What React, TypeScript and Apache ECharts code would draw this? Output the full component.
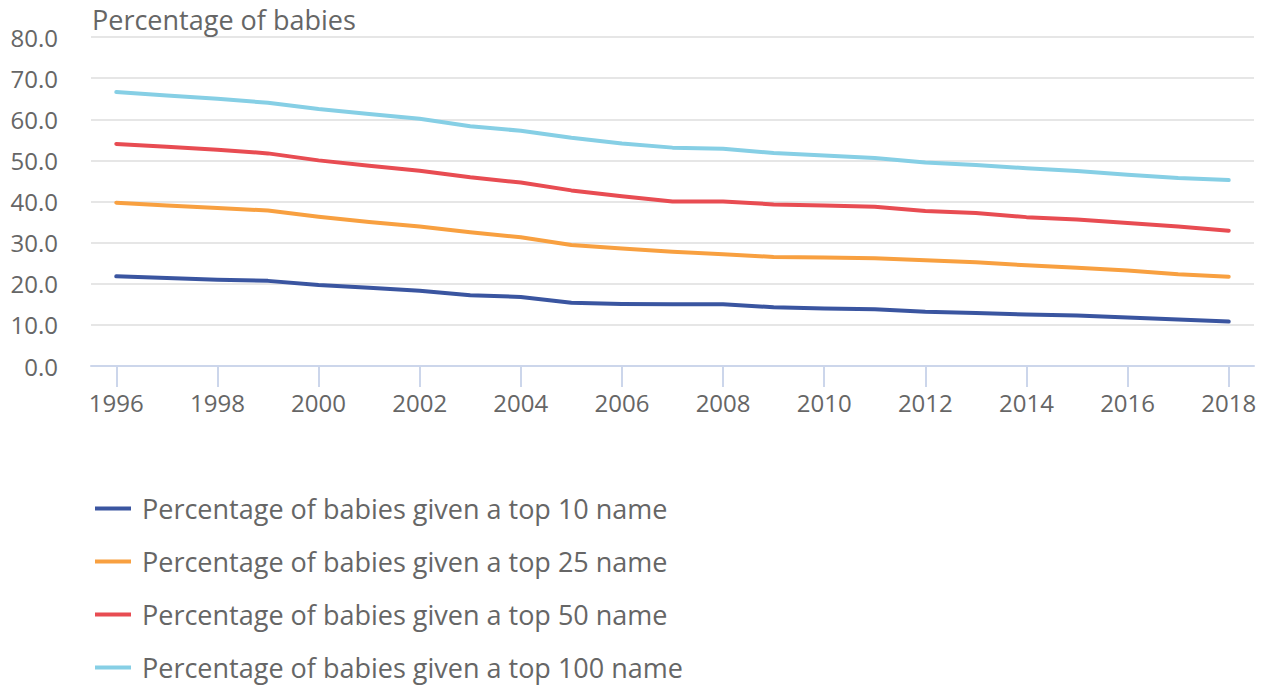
import React, { useEffect, useRef } from "react";
import * as echarts from "echarts";

const years = [
  "1996", "1997", "1998", "1999", "2000", "2001", "2002", "2003", "2004", "2005", "2006", "2007",
  "2008", "2009", "2010", "2011", "2012", "2013", "2014", "2015", "2016", "2017", "2018",
];

const top10 = [21.8, 21.4, 21.0, 20.7, 19.7, 19.0, 18.3, 17.2, 16.8, 15.4, 15.1, 15.0, 15.0, 14.3, 14.0, 13.8, 13.2, 12.9, 12.5, 12.3, 11.8, 11.3, 10.8];
const top25 = [39.7, 39.0, 38.4, 37.8, 36.3, 35.0, 33.9, 32.5, 31.3, 29.4, 28.6, 27.8, 27.2, 26.5, 26.4, 26.2, 25.7, 25.2, 24.5, 23.9, 23.2, 22.3, 21.7];
const top50 = [54.0, 53.3, 52.6, 51.7, 50.0, 48.7, 47.5, 45.9, 44.6, 42.7, 41.3, 40.0, 40.0, 39.3, 39.0, 38.7, 37.7, 37.2, 36.2, 35.6, 34.8, 33.9, 32.9];
const top100 = [66.6, 65.8, 65.0, 64.0, 62.5, 61.3, 60.1, 58.3, 57.2, 55.5, 54.1, 53.1, 52.8, 51.8, 51.2, 50.6, 49.5, 48.9, 48.1, 47.4, 46.5, 45.7, 45.2];

const seriesNames = [
  "Percentage of babies given a top 10 name",
  "Percentage of babies given a top 25 name",
  "Percentage of babies given a top 50 name",
  "Percentage of babies given a top 100 name",
];
const seriesColors = ["#3a55a0", "#f8a040", "#e84c52", "#86cfe5"];
const seriesData = [top10, top25, top50, top100];

const FONT = "'Open Sans', sans-serif";
const TEXT = "#666666";

export default function App() {
  const ref = useRef<HTMLDivElement>(null);
  useEffect(() => {
    if (!ref.current) return;
    const chart = echarts.init(ref.current, null, { renderer: "svg" });
    chart.setOption({
      animation: false,
      textStyle: { fontFamily: FONT },
      title: {
        text: "Percentage of babies",
        left: 87,
        top: 1,
        textStyle: { fontFamily: FONT, fontSize: 27, fontWeight: "normal", color: TEXT },
      },
      grid: { left: 91, right: 9, top: 37, bottom: 322, containLabel: false },
      legend: {
        orient: "vertical",
        left: 95,
        top: 495,
        padding: 0,
        itemWidth: 36,
        itemHeight: 4,
        itemGap: 26,
        icon: "rect",
        data: seriesNames,
        textStyle: { fontFamily: FONT, fontSize: 27, color: TEXT, lineHeight: 27, padding: [0, 0, 0, 6] },
      },
      xAxis: {
        type: "category",
        data: years,
        boundaryGap: true,
        axisLine: { lineStyle: { color: "#ccd6eb", width: 2 } },
        axisTick: { show: true, alignWithLabel: true, interval: 1, length: 21, lineStyle: { color: "#ccd6eb", width: 2 } },
        axisLabel: { interval: 1, margin: 24, fontFamily: FONT, fontSize: 24, color: TEXT },
      },
      yAxis: {
        type: "value",
        min: 0,
        max: 80,
        interval: 10,
        axisLine: { show: false },
        axisTick: { show: false },
        splitLine: { lineStyle: { color: "#e6e6e6", width: 2 } },
        axisLabel: {
          margin: 33,
          fontFamily: FONT,
          fontSize: 24,
          color: TEXT,
          formatter: (v: number) => v.toFixed(1),
        },
      },
      series: seriesNames.map((name, i) => ({
        name,
        type: "line",
        data: seriesData[i],
        symbol: "none",
        color: seriesColors[i],
        lineStyle: { width: 4, color: seriesColors[i], cap: "round", join: "round" },
      })),
    });
    return () => chart.dispose();
  }, []);
  return (
    <div
      ref={ref}
      style={{ position: "absolute", left: 0, top: 0, width: 1263, height: 688 }}
    />
  );
}
